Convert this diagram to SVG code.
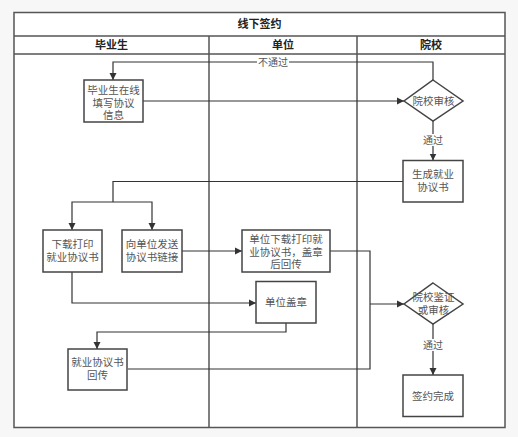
<svg xmlns="http://www.w3.org/2000/svg" width="518" height="437" viewBox="0 0 518 437">
<defs>
<marker id="arr" markerWidth="8" markerHeight="8" refX="7" refY="4" orient="auto" markerUnits="userSpaceOnUse">
<path d="M0,0.5 L7,4 L0,7.5 Z" fill="#333"/>
</marker>
<style>
.lane{fill:#fff;stroke:#555;stroke-width:1.5}
.node{fill:#fff;stroke:#444;stroke-width:1.5}
.t{font-family:"Noto Sans CJK SC","Liberation Sans",sans-serif;font-size:10.5px;fill:#555;text-anchor:middle}
.h{font-family:"Noto Sans CJK SC","Liberation Sans",sans-serif;font-size:11px;font-weight:bold;fill:#222;text-anchor:middle}
.c{fill:none;stroke:#333;stroke-width:1.2}
.lbl{font-family:"Noto Sans CJK SC","Liberation Sans",sans-serif;font-size:10px;fill:#555;text-anchor:middle}
</style>
</defs>
<rect width="518" height="437" fill="#f7f7f7"/>
<g id="pool">
<rect class="lane" x="14" y="12.5" width="491" height="415"/>
<line class="lane" x1="14" y1="36" x2="505" y2="36"/>
<line class="lane" x1="14" y1="54" x2="505" y2="54"/>
<line class="lane" x1="209" y1="36" x2="209" y2="427.5"/>
<line class="lane" x1="357" y1="36" x2="357" y2="427.5"/>
<text class="h" x="259.5" y="28">线下签约</text>
<text class="h" x="111.5" y="49">毕业生</text>
<text class="h" x="283" y="49">单位</text>
<text class="h" x="431" y="49">院校</text>
</g>
<g id="connectors">
<path class="c" d="M143,101 H404" marker-end="url(#arr)"/>
<path class="c" d="M433,80 V62 H113 V80" marker-end="url(#arr)"/>
<rect x="257" y="56" width="32" height="12" fill="#fff"/>
<text class="lbl" x="273" y="66">不通过</text>
<path class="c" d="M433,121 V160.5" marker-end="url(#arr)"/>
<rect x="421" y="134" width="24" height="12" fill="#fff"/>
<text class="lbl" x="433" y="144">通过</text>
<path class="c" d="M403,181.5 H113 V202"/>
<path class="c" d="M113,202 H72 V230" marker-end="url(#arr)"/>
<path class="c" d="M113,202 H152 V230" marker-end="url(#arr)"/>
<path class="c" d="M182,251 H242" marker-end="url(#arr)"/>
<path class="c" d="M330,251 H370 V369 H128"/>
<path class="c" d="M370,304 H404" marker-end="url(#arr)"/>
<path class="c" d="M72,272 V303 H256" marker-end="url(#arr)"/>
<path class="c" d="M286,323 V332 H97 V349" marker-end="url(#arr)"/>
<path class="c" d="M433,324 V375" marker-end="url(#arr)"/>
<rect x="421" y="339" width="24" height="12" fill="#fff"/>
<text class="lbl" x="433" y="349">通过</text>
</g>
<g id="n1">
<rect class="node" x="84" y="80" width="59" height="42"/>
<text class="t" x="113.5" y="94">毕业生在线</text>
<text class="t" x="113.5" y="106.5">填写协议</text>
<text class="t" x="113.5" y="119">信息</text>
</g>
<g id="d1">
<polygon class="node" points="433,80 463,101 433,121 404,101"/>
<text class="t" x="433.5" y="104.5">院校审核</text>
</g>
<g id="n2">
<rect class="node" x="403" y="160.5" width="60" height="41.5"/>
<text class="t" x="433" y="178">生成就业</text>
<text class="t" x="433" y="191">协议书</text>
</g>
<g id="n3">
<rect class="node" x="43" y="230" width="59" height="42"/>
<text class="t" x="72.5" y="248">下载打印</text>
<text class="t" x="72.5" y="261">就业协议书</text>
</g>
<g id="n4">
<rect class="node" x="122" y="230" width="60" height="42"/>
<text class="t" x="152" y="248">向单位发送</text>
<text class="t" x="152" y="261">协议书链接</text>
</g>
<g id="n5">
<rect class="node" x="242" y="230" width="88" height="42"/>
<text class="t" x="286" y="243">单位下载打印就</text>
<text class="t" x="286" y="255.5">业协议书，盖章</text>
<text class="t" x="286" y="268">后回传</text>
</g>
<g id="n6">
<rect class="node" x="256" y="281.5" width="60" height="41.5"/>
<text class="t" x="286" y="306">单位盖章</text>
</g>
<g id="n7">
<rect class="node" x="68" y="349" width="59" height="41"/>
<text class="t" x="97.5" y="366">就业协议书</text>
<text class="t" x="97.5" y="379">回传</text>
</g>
<g id="d2">
<polygon class="node" points="433,283 463,304 433,324 404,304"/>
<text class="t" x="433.5" y="301">院校鉴证</text>
<text class="t" x="433.5" y="314">或审核</text>
</g>
<g id="n8">
<rect class="node" x="403" y="375" width="60" height="41.5"/>
<text class="t" x="433" y="399.5">签约完成</text>
</g>
</svg>
